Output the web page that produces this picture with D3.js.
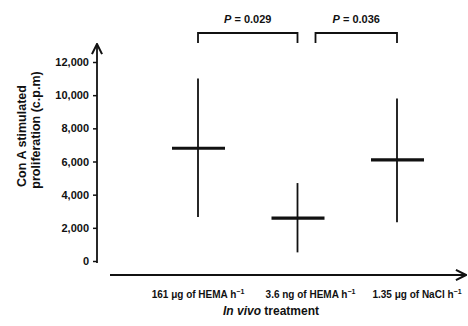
<!DOCTYPE html>
<html>
<head>
<meta charset="utf-8">
<script src="https://cdn.jsdelivr.net/npm/d3@7"></script>
<style>
  body { margin: 0; background: #fff; }
  svg { display: block; font-family: "Liberation Sans", Arial, sans-serif; }
  .lbl { font-weight: bold; fill: #111; }
</style>
</head>
<body>
<svg width="468" height="326"></svg>
<script>
const categories = ['161 μg of HEMA', '3.6 ng of HEMA', '1.35 μg of NaCl'];
const means = [6800, 2580, 6100];
const upper = [11000, 4700, 9800];
const lower = [2650, 520, 2330];
const yTicks = [0, 2000, 4000, 6000, 8000, 10000, 12000];
const comparisons = [
  { from: 0, to: 1, label: '0.029' },
  { from: 1, to: 2, label: '0.036' }
];

const svg = d3.select('svg');
const ink = '#111';

const y = d3.scaleLinear().domain([0, 12000]).range([261, 62]);
const x = d3.scalePoint().domain(categories).range([198, 397]);

// y axis with arrow
const axisX = 97;
svg.append('defs').append('marker')
  .attr('id', 'arr').attr('viewBox', '0 0 10 10').attr('refX', 9).attr('refY', 5)
  .attr('markerWidth', 7).attr('markerHeight', 7).attr('orient', 'auto')
  .append('path').attr('d', 'M1,1 L9,5 L1,9').attr('fill', 'none').attr('stroke', ink).attr('stroke-width', 1.6);

const yAxis = svg.append('g').attr('transform', `translate(${axisX},0)`)
  .call(d3.axisLeft(y).tickValues(yTicks).tickSize(4).tickFormat(d3.format(',')));
yAxis.select('.domain').remove();
yAxis.selectAll('line').attr('stroke', ink).attr('stroke-width', 1.5);
yAxis.selectAll('text').attr('class', 'lbl').attr('font-size', 11).attr('x', -8);
svg.append('line')
  .attr('x1', axisX).attr('x2', axisX).attr('y1', y(0) + 2).attr('y2', 44)
  .attr('stroke', ink).attr('stroke-width', 1.8).attr('marker-end', 'url(#arr)');

// x axis with arrow
svg.append('line')
  .attr('x1', 110).attr('x2', 466).attr('y1', 275).attr('y2', 275)
  .attr('stroke', ink).attr('stroke-width', 1.8).attr('marker-end', 'url(#arr)');

// error bars and means
const g = svg.append('g');
g.selectAll('.err').data(categories).join('line')
  .attr('class', 'err')
  .attr('x1', c => x(c)).attr('x2', c => x(c))
  .attr('y1', (c, i) => y(upper[i])).attr('y2', (c, i) => y(lower[i]))
  .attr('stroke', ink).attr('stroke-width', 1.8);
g.selectAll('.mean').data(categories).join('line')
  .attr('class', 'mean')
  .attr('x1', c => x(c) - 26).attr('x2', c => x(c) + 27)
  .attr('y1', (c, i) => y(means[i])).attr('y2', (c, i) => y(means[i]))
  .attr('stroke', ink).attr('stroke-width', 3.2);

// significance brackets
const bTop = 33, bBot = 43;
const bx = (cmp, end) => {
  const a = x(categories[cmp.from]), b = x(categories[cmp.to]);
  if (cmp.from === 0) return end ? b : a;
  return end ? b : a + 18;
};
svg.selectAll('.bracket').data(comparisons).join('path')
  .attr('class', 'bracket')
  .attr('d', d => `M${bx(d, false)},${bBot} V${bTop} H${bx(d, true)} V${bBot}`)
  .attr('fill', 'none').attr('stroke', ink).attr('stroke-width', 1.8);
const ptxt = svg.selectAll('.ptxt').data(comparisons).join('text')
  .attr('class', 'lbl ptxt')
  .attr('x', d => (bx(d, false) + bx(d, true)) / 2)
  .attr('y', 23).attr('text-anchor', 'middle').attr('font-size', 11);
ptxt.append('tspan').attr('font-style', 'italic').text('P');
ptxt.append('tspan').text(d => ' = ' + d.label);

// category labels
const labelShift = [0, 13, 20];
const cl = svg.selectAll('.cat').data(categories).join('text')
  .attr('class', 'lbl cat')
  .attr('x', (c, i) => x(c) + labelShift[i]).attr('y', 298)
  .attr('text-anchor', 'middle').attr('font-size', 10);
cl.append('tspan').text(c => c + ' h');
cl.append('tspan').attr('dy', -4).attr('font-size', 7).text('−1');

const xt = svg.append('text').attr('class', 'lbl')
  .attr('x', 271).attr('y', 315).attr('text-anchor', 'middle').attr('font-size', 12);
xt.append('tspan').attr('font-style', 'italic').text('In vivo');
xt.append('tspan').text(' treatment');

// y title
const yt = svg.append('text').attr('class', 'lbl')
  .attr('transform', 'rotate(-90)').attr('text-anchor', 'middle').attr('font-size', 12.5);
yt.append('tspan').attr('x', -136).attr('y', 26).text('Con A stimulated');
yt.append('tspan').attr('x', -130).attr('y', 40).text('proliferation (c.p.m)');
</script>
</body>
</html>
